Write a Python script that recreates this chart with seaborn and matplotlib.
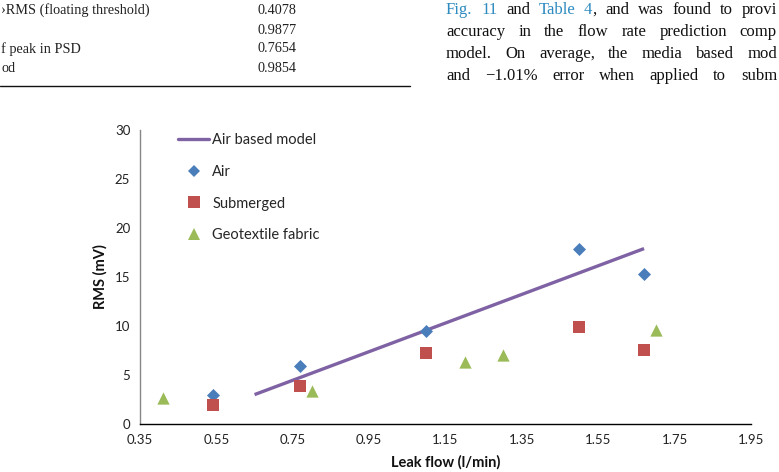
import matplotlib
matplotlib.use("Agg")
import matplotlib.pyplot as plt
from matplotlib.lines import Line2D
import seaborn as sns
import pandas as pd

# ---- data ----
air_flow = [0.54, 0.77, 1.10, 1.50, 1.67]
air_rms = [3.0, 5.9, 9.5, 17.9, 15.3]
sub_flow = [0.54, 0.77, 1.10, 1.50, 1.67]
sub_rms = [1.9, 3.9, 7.2, 9.9, 7.6]
geo_flow = [0.41, 0.80, 1.20, 1.30, 1.70]
geo_rms = [2.7, 3.4, 6.3, 7.0, 9.6]
model_flow = [0.65, 1.67]
model_rms = [3.0, 17.9]

x_ticks = [0.35, 0.55, 0.75, 0.95, 1.15, 1.35, 1.55, 1.75, 1.95]
y_ticks = [0, 5, 10, 15, 20, 25, 30]

table_labels = ["\u203aRMS (floating threshold)", "", "f peak in PSD", "od"]
table_values = ["0.4078", "0.9877", "0.7654", "0.9854"]

sns.set_theme(style="white")
plt.rcParams["font.family"] = ["Lato", "DejaVu Sans"]

fig = plt.figure(figsize=(7.79, 4.72), dpi=100)
W, H = 779, 472
ax = fig.add_axes([140 / W, 48 / H, (751 - 140) / W, 294 / H])

c_air, c_sub, c_geo, c_line = "#4a7ebb", "#c0504d", "#9bbb59", "#7f62a4"

df_model = pd.DataFrame({"flow": model_flow, "rms": model_rms})
sns.lineplot(data=df_model, x="flow", y="rms", ax=ax, color=c_line, lw=2.4,
             solid_capstyle="butt")
sns.scatterplot(x=air_flow, y=air_rms, ax=ax, marker="D", s=44, color=c_air,
                linewidth=0, zorder=3)
sns.scatterplot(x=sub_flow, y=sub_rms, ax=ax, marker="s", s=74, color=c_sub,
                linewidth=0, zorder=3)
sns.scatterplot(x=geo_flow, y=geo_rms, ax=ax, marker="^", s=78, color=c_geo,
                linewidth=0, zorder=3)

ax.set_xlim(x_ticks[0], x_ticks[-1])
ax.set_ylim(y_ticks[0], y_ticks[-1])
ax.set_xticks(x_ticks)
ax.set_xticklabels([f"{t:.2f}" for t in x_ticks])
ax.set_yticks(y_ticks)
ax.set_yticklabels([str(t) for t in y_ticks])
for s in ["top", "right"]:
    ax.spines[s].set_visible(False)
ax.spines["bottom"].set_color("#000000")
ax.spines["bottom"].set_linewidth(1.0)
ax.spines["left"].set_color("#868686")
ax.spines["left"].set_linewidth(1.0)
ax.tick_params(axis="x", direction="out", length=4, width=1, color="#555555",
               labelsize=9.5, labelcolor="#222222", pad=3)
ax.tick_params(axis="y", direction="out", length=4, width=1, color="#868686",
               labelsize=9.5, labelcolor="#222222", pad=3)
ax.set_xlabel("Leak flow (l/min)", fontsize=10.5, fontweight="bold", color="#111111")
ax.set_ylabel("RMS (mV)", fontsize=10.5, fontweight="bold", color="#111111")
ax.xaxis.label.set_verticalalignment("center")
ax.yaxis.label.set_verticalalignment("center")
ax.xaxis.set_label_coords((446 - 140) / (751 - 140), -(462 - 424) / 294)
ax.yaxis.set_label_coords(-(140 - 100) / (751 - 140), (424 - 277) / 294)

handles = [
    Line2D([], [], color=c_line, lw=2.4),
    Line2D([], [], color=c_air, marker="D", ls="none", ms=6.6, mew=0),
    Line2D([], [], color=c_sub, marker="s", ms=8.6, ls="none", mew=0),
    Line2D([], [], color=c_geo, marker="^", ms=8.8, ls="none", mew=0),
]
labels = ["Air based model", "Air", "Submerged", "Geotextile fabric"]
leg = ax.legend(handles, labels, loc="upper left",
                bbox_to_anchor=(178 / W, (472 - 133) / H),
                bbox_transform=fig.transFigure, frameon=False,
                fontsize=10.5, handlelength=2.15, handletextpad=0.2,
                labelspacing=1.22, borderaxespad=0, borderpad=0)

# ---- surrounding page text ----
serif = ["Liberation Serif", "DejaVu Serif"]
ys_left = [10, 30, 49, 68]
for yy, lab, val in zip(ys_left, table_labels, table_values):
    fig.text(1 / W, 1 - yy / H, lab, fontsize=10.3, family=serif, va="center",
             ha="left", color="#222222")
    fig.text(257 / W, 1 - yy / H, val, fontsize=10.3, family=serif, va="center",
             ha="left", color="#222222")
fig.add_artist(Line2D([0, 410 / W], [1 - 86 / H, 1 - 86 / H], color="#111111",
                      lw=1.0, transform=fig.transFigure))

blue = "#2e8bc0"
black = "#111111"
para_lines = [
    [("Fig.", blue, True), ("11", blue, True), ("and", black, True),
     ("Table", blue, True), ("4", blue, True), (",", black, False),
     ("and", black, True), ("was", black, True), ("found", black, True),
     ("to", black, True), ("provi", black, True)],
    [(w, black, True) for w in "accuracy in the flow rate prediction comp".split()],
    [(w, black, True) for w in "model. On average, the media based mod".split()],
    [(w, black, True) for w in "and \u22121.01% error when applied to subm".split()],
]
renderer = fig.canvas.get_renderer()
x0, x1 = 446, 777
for yy, toks in zip([10, 32, 54, 76], para_lines):
    texts = []
    for w, col, _ in toks:
        t = fig.text(0, 1 - yy / H, w, fontsize=12, family=serif, va="center",
                     ha="left", color=col)
        texts.append(t)
    widths = [t.get_window_extent(renderer).width for t in texts]
    n_gaps = sum(1 for i, tk in enumerate(toks) if i > 0 and tk[2])
    gap = (x1 - x0 - sum(widths)) / max(n_gaps, 1)
    x = x0
    for i, (t, tk, wd) in enumerate(zip(texts, toks, widths)):
        if i > 0 and tk[2]:
            x += gap
        t.set_x(x / W)
        x += wd

fig.savefig("out.png", dpi=100)
